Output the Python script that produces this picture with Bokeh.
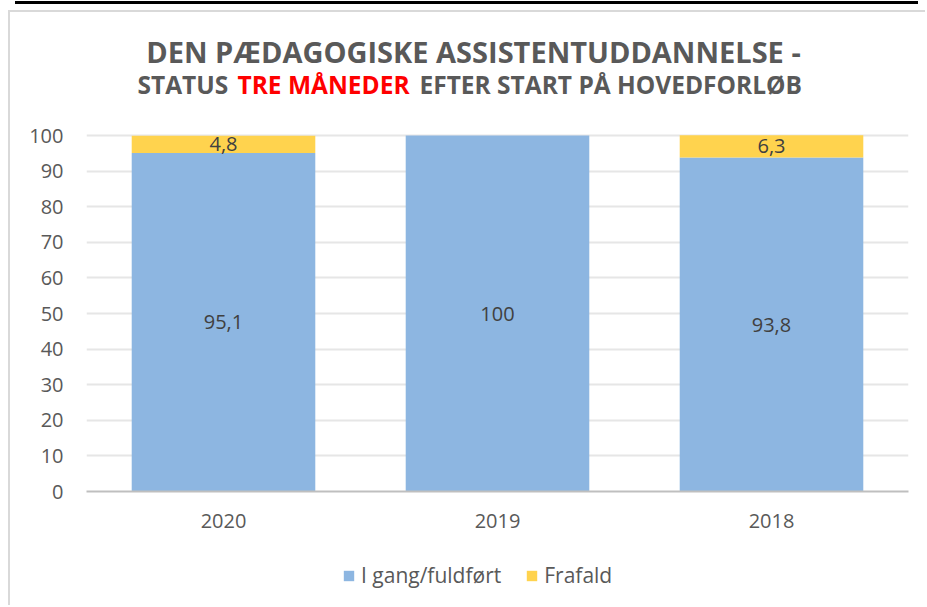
from bokeh.plotting import figure
from bokeh.layouts import column
from bokeh.models import (Range1d, FactorRange, ColumnDataSource, LabelSet, Label,
                          Legend, LegendItem, FixedTicker)
from bokeh.core.properties import value
from bokeh.embed import file_html
from bokeh.resources import INLINE

years = ["2020", "2019", "2018"]
igang = [95.1, 100, 93.8]
frafald = [4.8, 0, 6.3]
series_names = ["I gang/fuldført", "Frafald"]
title1 = "DEN PÆDAGOGISKE ASSISTENTUDDANNELSE -"
title2_parts = ["STATUS", "TRE MÅNEDER", "EFTER START PÅ HOVEDFORLØB"]
y_ticks = [0, 10, 20, 30, 40, 50, 60, 70, 80, 90, 100]

BLUE = "#8db6e1"
YELLOW = "#ffd34e"
GRAY = "#595959"
FONT = "Open Sans"

W = 915
FRAME_H = 479
AXIS_H = 50
LEG_H = 64
Y_TOP = 100 + 123 / 3.56   # room for the title inside the plot frame

p = figure(width=W, height=FRAME_H + AXIS_H,
           x_range=FactorRange(*years, range_padding=0),
           y_range=Range1d(0, Y_TOP), output_backend="svg", toolbar_location=None,
           min_border_left=76, min_border_right=W - 898, min_border_top=0,
           min_border_bottom=AXIS_H)
p.outline_line_color = None
p.background_fill_color = "white"
p.border_fill_color = "white"

src = ColumnDataSource(dict(years=years, igang=igang, frafald=frafald))
r = p.vbar_stack(["igang", "frafald"], x="years", width=0.67, source=src,
                 color=[BLUE, YELLOW], line_color=None)

def fmt(v):
    return ("%g" % v).replace(".", ",")

lab_x, lab_y, lab_t = [], [], []
for yr, a, b in zip(years, igang, frafald):
    if a > 0:
        lab_x.append(yr); lab_y.append(a / 2); lab_t.append(fmt(a))
    if b > 0:
        lab_x.append(yr); lab_y.append(a + b / 2); lab_t.append(fmt(b))
lsrc = ColumnDataSource(dict(x=lab_x, y=lab_y, t=lab_t))
p.add_layout(LabelSet(x="x", y="y", text="t", source=lsrc, text_align="center",
                      text_baseline="middle",
                      text_font=value(FONT), text_font_size=value("20px"),
                      text_color="#404040"))

p.yaxis.ticker = FixedTicker(ticks=y_ticks)
p.yaxis.axis_line_color = None
p.yaxis.major_tick_line_color = None
p.yaxis.minor_tick_line_color = None
p.yaxis.major_tick_out = 0
p.yaxis.major_label_text_font = FONT
p.yaxis.major_label_text_font_size = "20px"
p.yaxis.major_label_text_color = GRAY
p.yaxis.major_label_standoff = 23

p.xaxis.axis_line_color = "#bfbfbf"
p.xaxis.axis_line_width = 2
p.xaxis.major_tick_line_color = None
p.xaxis.minor_tick_line_color = None
p.xaxis.major_tick_out = 0
p.xaxis.major_label_text_font = FONT
p.xaxis.major_label_text_font_size = "20px"
p.xaxis.major_label_text_color = GRAY
p.xaxis.major_label_standoff = 22

p.xgrid.grid_line_color = None
p.ygrid.grid_line_color = "#e6e6e6"
p.ygrid.grid_line_width = 2

# titles (frame-relative screen coordinates)
p.add_layout(Label(x=387, y=FRAME_H - 39, x_units="screen", y_units="screen",
                   text=title1, text_align="center", text_baseline="alphabetic",
                   text_font=FONT, text_font_style="bold", text_font_size="29px",
                   text_color=GRAY))
xs = [51, 151, 333]
cols = [GRAY, "#ff0000", GRAY]
for x, t, c in zip(xs, title2_parts, cols):
    p.add_layout(Label(x=x, y=FRAME_H - 72, x_units="screen", y_units="screen",
                       text=t, text_align="left", text_baseline="alphabetic",
                       text_font=FONT, text_font_style="bold", text_font_size="24.5px",
                       text_color=c))

# legend strip below the chart (its bars fall below its view)
p2 = figure(width=W, height=LEG_H, x_range=p.x_range, y_range=Range1d(1000, 1100),
            x_axis_type=None, y_axis_type=None, output_backend="svg",
            toolbar_location=None, min_border=0)
p2.outline_line_color = None
p2.grid.visible = False
proxies = p2.vbar_stack(["igang", "frafald"], x="years", width=0.67, source=src,
                        color=[BLUE, YELLOW], line_color=None)
legend = Legend(items=[LegendItem(label=n, renderers=[pr])
                       for n, pr in zip(series_names, proxies)],
                orientation="horizontal", location=(256, 16),
                label_text_font=FONT, label_text_font_size="21px",
                label_text_color=GRAY, glyph_width=13, glyph_height=13,
                label_standoff=6, spacing=24, padding=0, margin=0,
                border_line_color=None, background_fill_alpha=0)
p2.add_layout(legend, "center")

layout = column(p, p2, spacing=0,
                styles={"margin-left": "8px", "margin-top": "10px",
                        "border-left": "2px solid #d9d9d9",
                        "border-top": "2px solid #d9d9d9",
                        "box-shadow": "0 -13px 0 -7px white, 0 -16px 0 -7px black"})

open("out.html", "w").write(file_html(layout, INLINE))
